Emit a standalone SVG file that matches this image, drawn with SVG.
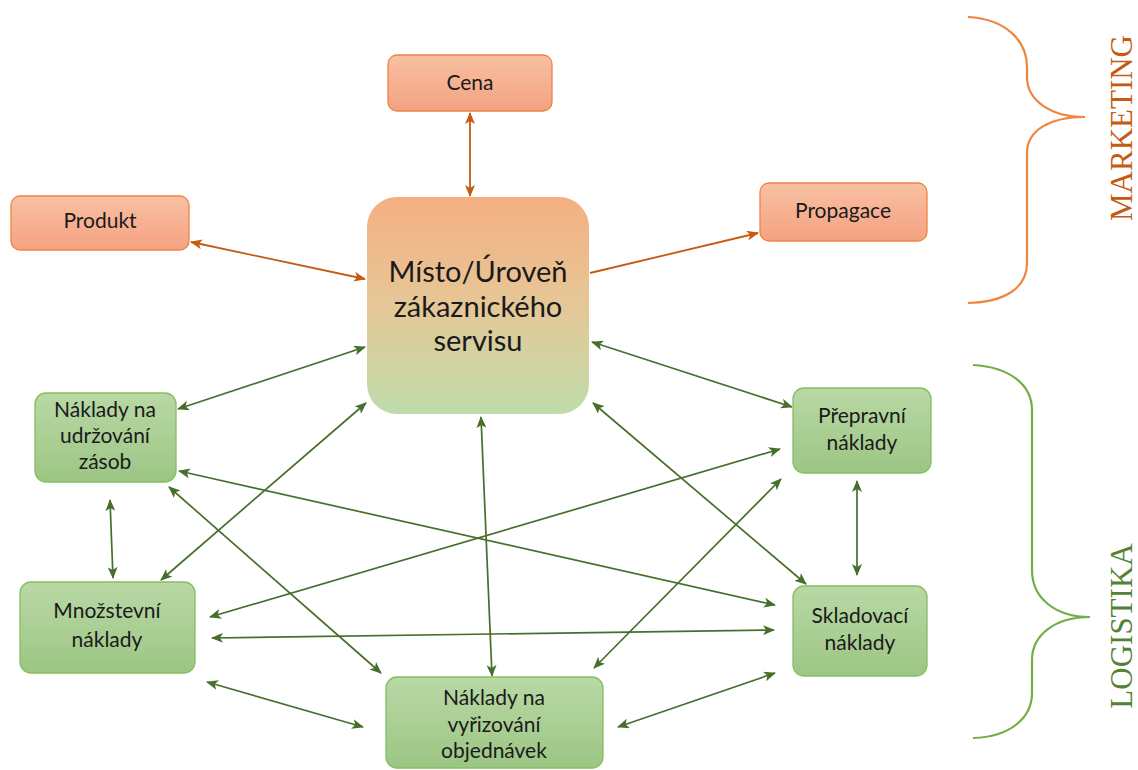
<svg xmlns="http://www.w3.org/2000/svg" width="1138" height="770" viewBox="0 0 1138 770">
<defs>
<linearGradient id="gOr" x1="0" y1="0" x2="0" y2="1"><stop offset="0" stop-color="#F8C0A3"/><stop offset="1" stop-color="#F4A281"/></linearGradient>
<linearGradient id="gGr" x1="0" y1="0" x2="0" y2="1"><stop offset="0" stop-color="#B9D8A5"/><stop offset="1" stop-color="#9CC684"/></linearGradient>
<linearGradient id="gC" x1="0" y1="0" x2="0" y2="1"><stop offset="0" stop-color="#F4AF82"/><stop offset="0.5" stop-color="#E6C797"/><stop offset="1" stop-color="#BEDCAA"/></linearGradient>
<marker id="aO" viewBox="0 0 12 10" refX="11" refY="5" markerWidth="12" markerHeight="10" markerUnits="userSpaceOnUse" orient="auto-start-reverse"><path d="M0,0 L12,5 L0,10 L3,5 z" fill="#C55A11"/></marker>
<marker id="aG" viewBox="0 0 12 10" refX="11" refY="5" markerWidth="12" markerHeight="10" markerUnits="userSpaceOnUse" orient="auto-start-reverse"><path d="M0,0 L12,5 L0,10 L3,5 z" fill="#476F2C"/></marker>
</defs>
<style>
.o{fill:url(#gOr);stroke:#EE8444;stroke-width:1.3}
.g{fill:url(#gGr);stroke:#86BE62;stroke-width:1.3}
.t{font-family:Lato,"Liberation Sans",sans-serif;font-size:21px;fill:#1a1a1a;text-anchor:middle}
.tc{font-family:Lato,"Liberation Sans",sans-serif;font-size:29px;fill:#1a1a1a;text-anchor:middle}
.co line{stroke:#C55A11;stroke-width:1.8;fill:none}
.cg line{stroke:#476F2C;stroke-width:1.7;fill:none}
.b{font-family:"Liberation Serif",serif;font-size:31px;text-anchor:middle}
</style>
<g id="connectors">
<g class="co">
<line x1="470" y1="113" x2="470" y2="196" marker-start="url(#aO)" marker-end="url(#aO)"/>
<line x1="191" y1="242" x2="365" y2="279" marker-start="url(#aO)" marker-end="url(#aO)"/>
<line x1="590" y1="273" x2="758" y2="233" marker-end="url(#aO)"/>
</g>
<g class="cg">
<line x1="178" y1="409" x2="365" y2="347" marker-start="url(#aG)" marker-end="url(#aG)"/>
<line x1="161" y1="580" x2="366" y2="403" marker-start="url(#aG)" marker-end="url(#aG)"/>
<line x1="481" y1="417" x2="492" y2="676" marker-start="url(#aG)" marker-end="url(#aG)"/>
<line x1="592" y1="342" x2="792" y2="407" marker-start="url(#aG)" marker-end="url(#aG)"/>
<line x1="593" y1="403" x2="806" y2="584" marker-start="url(#aG)" marker-end="url(#aG)"/>
<line x1="179" y1="471" x2="775" y2="605" marker-start="url(#aG)" marker-end="url(#aG)"/>
<line x1="169" y1="487" x2="381" y2="673" marker-start="url(#aG)" marker-end="url(#aG)"/>
<line x1="110" y1="500" x2="113" y2="578" marker-start="url(#aG)" marker-end="url(#aG)"/>
<line x1="210" y1="617" x2="780" y2="449" marker-start="url(#aG)" marker-end="url(#aG)"/>
<line x1="212" y1="638" x2="774" y2="630" marker-start="url(#aG)" marker-end="url(#aG)"/>
<line x1="207" y1="682" x2="363" y2="727" marker-start="url(#aG)" marker-end="url(#aG)"/>
<line x1="594" y1="668" x2="781" y2="479" marker-start="url(#aG)" marker-end="url(#aG)"/>
<line x1="618" y1="727" x2="775" y2="673" marker-start="url(#aG)" marker-end="url(#aG)"/>
<line x1="857" y1="481" x2="857" y2="575" marker-start="url(#aG)" marker-end="url(#aG)"/>
</g>
</g>
<g id="cena"><rect class="o" x="388" y="55" width="164" height="56" rx="9"/><text class="t" x="470" y="90">Cena</text></g>
<g id="produkt"><rect class="o" x="11" y="196" width="178" height="54" rx="9"/><text class="t" x="100" y="228">Produkt</text></g>
<g id="propagace"><rect class="o" x="760" y="183" width="167" height="58" rx="9"/><text class="t" x="843" y="218">Propagace</text></g>
<g id="misto"><rect x="367" y="197" width="222" height="217" rx="30" fill="url(#gC)"/>
<text class="tc" x="478" y="282">Místo/Úroveň</text><text class="tc" x="478" y="317">zákaznického</text><text class="tc" x="478" y="351">servisu</text></g>
<g id="udrzovani"><rect class="g" x="35" y="393" width="141" height="89" rx="11"/>
<text class="t" x="105" y="417">Náklady na</text><text class="t" x="105" y="443">udržování</text><text class="t" x="105" y="469">zásob</text></g>
<g id="mnozstevni"><rect class="g" x="20" y="582" width="175" height="91" rx="11"/>
<text class="t" x="107" y="618">Množstevní</text><text class="t" x="107" y="647">náklady</text></g>
<g id="prepravni"><rect class="g" x="793" y="388" width="138" height="85" rx="11"/>
<text class="t" x="862" y="423">Přepravní</text><text class="t" x="862" y="450">náklady</text></g>
<g id="skladovaci"><rect class="g" x="793" y="586" width="134" height="90" rx="11"/>
<text class="t" x="860" y="623">Skladovací</text><text class="t" x="860" y="650">náklady</text></g>
<g id="vyrizovani"><rect class="g" x="386" y="677" width="217" height="91" rx="11"/>
<text class="t" x="494" y="705">Náklady na</text><text class="t" x="494" y="732">vyřizování</text><text class="t" x="494" y="758">objednávek</text></g>
<g id="marketing">
<path d="M968,17 C1005,19 1027,40 1027,67 L1027,77 C1027,100 1050,117 1085,117 C1050,117 1027,130 1027,153 L1027,263 C1027,288 1005,302 968,303" fill="none" stroke="#EE8540" stroke-width="2.2"/>
<text class="b" fill="#C55A11" transform="translate(1132,128) rotate(-90)">MARKETING</text>
</g>
<g id="logistika">
<path d="M973,365 C1010,367 1032,385 1032,410 L1032,570 C1032,598 1055,617 1090,617 C1055,617 1032,635 1032,660 L1032,693 C1032,718 1010,737 973,738" fill="none" stroke="#72AE48" stroke-width="2.2"/>
<text class="b" fill="#548235" transform="translate(1132,626) rotate(-90)">LOGISTIKA</text>
</g>
</svg>
